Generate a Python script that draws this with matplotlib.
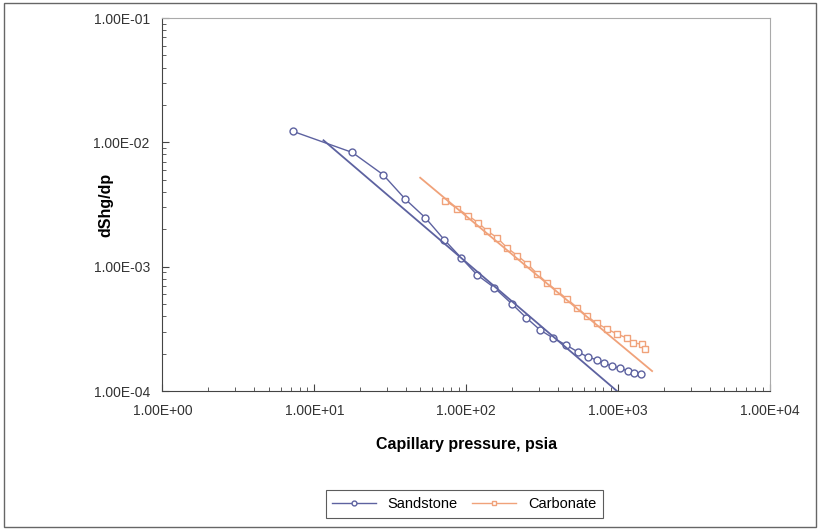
import numpy as np
import matplotlib.pyplot as plt
from matplotlib.ticker import FuncFormatter, LogLocator, NullFormatter
from matplotlib.patches import Rectangle

plt.rcParams['font.family'] = ['Liberation Sans', 'DejaVu Sans']

# Sandstone data points
sand_p = [7.2, 17.8, 28.4, 39.7, 53.8, 71.7, 92.7, 118, 153, 201, 248, 307, 374,
          455, 546, 635, 728, 809, 913, 1031, 1164, 1274, 1417]
sand_d = [1.23e-2, 8.3e-3, 5.5e-3, 3.5e-3, 2.48e-3, 1.65e-3, 1.18e-3, 8.6e-4, 6.8e-4,
          5.0e-4, 3.9e-4, 3.1e-4, 2.67e-4, 2.35e-4, 2.06e-4, 1.88e-4, 1.78e-4, 1.68e-4,
          1.59e-4, 1.53e-4, 1.45e-4, 1.40e-4, 1.37e-4]

# Carbonate data points
carb_p = [72.8, 87.3, 103, 120, 137, 160, 186, 217, 252, 293, 341, 397, 462, 537,
          625, 728, 847, 985, 1146, 1255, 1438, 1505]
carb_d = [3.40e-3, 2.94e-3, 2.58e-3, 2.26e-3, 1.95e-3, 1.71e-3, 1.42e-3, 1.23e-3,
          1.06e-3, 8.8e-4, 7.4e-4, 6.4e-4, 5.5e-4, 4.7e-4, 4.0e-4, 3.5e-4, 3.16e-4,
          2.88e-4, 2.67e-4, 2.44e-4, 2.39e-4, 2.18e-4]

# power-law trend lines (end points)
sand_fit_p = [11.5, 985]
sand_fit_d = [1.04e-2, 1.0e-4]
carb_fit_p = [49.8, 1675]
carb_fit_d = [5.2e-3, 1.45e-4]

sand_col = '#5d62a0'
carb_col = '#f0a27a'

fig = plt.figure(figsize=(8.2, 5.3), dpi=100)
ax = fig.add_axes([0.198, 0.262, 0.741, 0.704])

ax.plot(sand_p, sand_d, color=sand_col, lw=1.0, marker='o', ms=5, mfc='white',
        mec=sand_col, mew=1.0, label='Sandstone')
ax.plot(carb_p, carb_d, color=carb_col, lw=1.0, marker='s', ms=5, mfc='white',
        mec=carb_col, mew=1.0, label='Carbonate')
ax.plot(sand_fit_p, sand_fit_d, color=sand_col, lw=1.3)
ax.plot(carb_fit_p, carb_fit_d, color=carb_col, lw=1.3)

ax.set_xscale('log')
ax.set_yscale('log')
ax.set_xlim(1, 1e4)
ax.set_ylim(1e-4, 1e-1)

fmt = FuncFormatter(lambda v, pos: f"{v:.2E}")
ax.xaxis.set_major_formatter(fmt)
ax.yaxis.set_major_formatter(fmt)
ax.xaxis.set_minor_locator(LogLocator(base=10, subs=np.arange(2, 10)))
ax.yaxis.set_minor_locator(LogLocator(base=10, subs=np.arange(2, 10)))
ax.xaxis.set_minor_formatter(NullFormatter())
ax.yaxis.set_minor_formatter(NullFormatter())
ax.tick_params(which='both', direction='in', color='#444444', labelsize=10,
               labelcolor='#333333', top=False, right=False)
ax.tick_params(axis='x', which='major', length=5, pad=9)
ax.tick_params(axis='y', which='major', length=5, pad=9)
ax.tick_params(which='minor', length=3)

for s in ['left', 'bottom']:
    ax.spines[s].set_color('#444444')
for s in ['top', 'right']:
    ax.spines[s].set_color('#aaaaaa')

ax.set_xlabel('Capillary pressure, psia', fontsize=11.5, fontweight='bold', labelpad=14)
ax.set_ylabel('dShg/dp', fontsize=11.5, fontweight='bold')
ax.yaxis.set_label_coords(-0.08, 0.5)

leg = fig.legend(loc='center', bbox_to_anchor=(0.566, 0.049), ncol=2, fontsize=10.5,
                 frameon=True, fancybox=False, edgecolor='#333333',
                 handlelength=3.0, columnspacing=1.0, borderpad=0.45, markerscale=0.7)
leg.get_frame().set_linewidth(0.8)

fig.patches.append(Rectangle((0.005, 0.006), 0.99, 0.988, transform=fig.transFigure,
                             fill=False, edgecolor='#666666', lw=1.0))

fig.savefig('out.png', dpi=100)
